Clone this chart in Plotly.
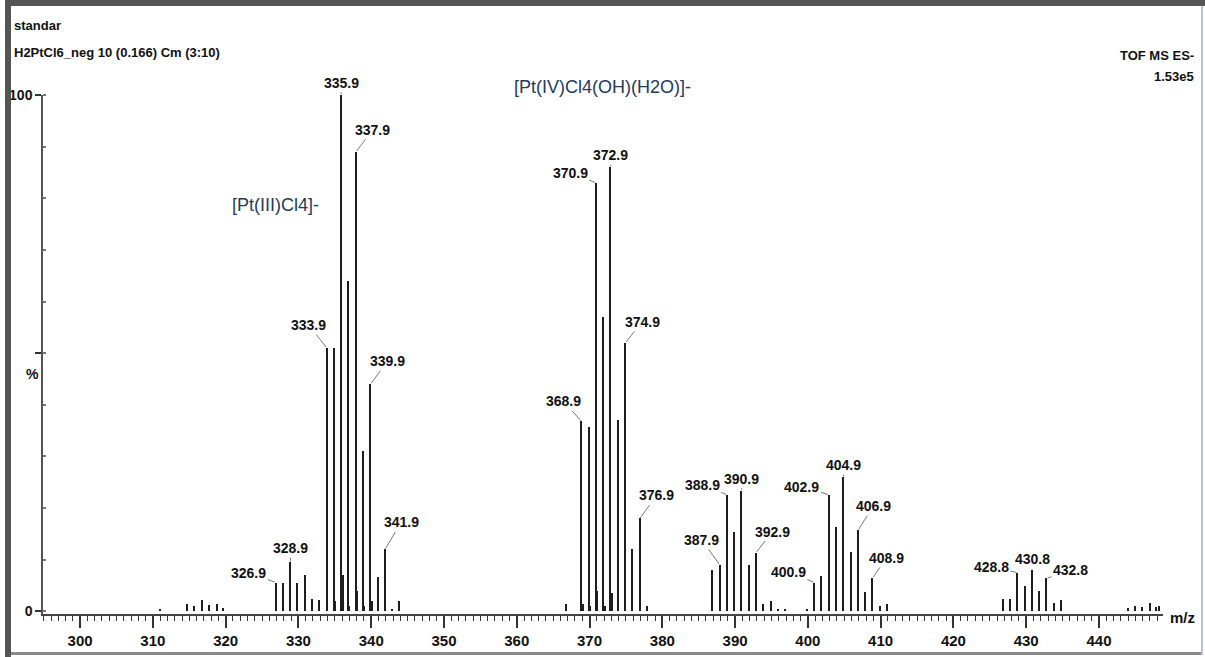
import plotly.graph_objects as go

# ---------------- data ----------------
mz = [311.0, 314.7, 315.7, 316.8, 317.7, 318.8, 319.6,
      326.9, 327.9, 328.9, 329.9, 330.9, 331.9, 332.9,
      333.9, 334.0, 334.9, 335.0, 335.9, 336.1, 336.9, 337.0,
      337.9, 338.1, 338.9, 339.1, 339.9, 340.1, 340.9, 341.9, 342.9, 343.9,
      366.8, 368.9, 369.1, 369.9, 370.1, 370.9, 371.1, 371.9, 372.1,
      372.9, 373.1, 373.9, 374.9, 375.9, 376.9, 377.9,
      386.9, 387.9, 388.9, 389.9, 390.9, 391.9, 392.9, 393.9, 394.9,
      395.9, 396.9, 399.9,
      400.9, 401.9, 402.9, 403.9, 404.9, 405.9, 406.9, 407.9, 408.9,
      409.9, 410.9,
      426.8, 427.8, 428.8, 429.8, 430.8, 431.8, 432.8, 433.8, 434.8,
      444.0, 445.0, 446.0, 447.0, 447.9, 448.3]
intensity = [0.4, 1.5, 1.0, 2.2, 1.3, 1.5, 0.6,
             5.6, 5.5, 9.5, 5.5, 7.0, 2.5, 2.3,
             51.0, 3.0, 51.0, 2.0, 100.0, 7.0, 64.0, 1.0,
             89.0, 4.0, 31.0, 1.0, 44.0, 2.0, 6.7, 12.0, 0.4, 2.0,
             1.5, 36.8, 1.5, 35.8, 1.0, 83.0, 4.0, 57.0, 1.0,
             86.0, 3.5, 37.0, 52.0, 12.0, 18.0, 1.0,
             8.0, 9.0, 22.6, 15.4, 23.4, 9.0, 11.4, 1.5, 2.0,
             0.5, 0.4, 0.4,
             5.6, 6.8, 22.6, 16.3, 26.0, 11.6, 15.7, 3.8, 6.5,
             1.0, 1.5,
             2.5, 2.5, 7.5, 5.0, 8.0, 4.0, 6.4, 1.7, 2.3,
             0.6, 1.1, 0.8, 1.6, 0.8, 1.1]

label_mz = [326.9, 328.9, 333.9, 335.9, 337.9, 339.9, 341.9,
            368.9, 370.9, 372.9, 374.9, 376.9,
            387.9, 388.9, 390.9, 392.9,
            400.9, 402.9, 404.9, 406.9, 408.9,
            428.8, 430.8, 432.8]
label_text = ["326.9", "328.9", "333.9", "335.9", "337.9", "339.9", "341.9",
              "368.9", "370.9", "372.9", "374.9", "376.9",
              "387.9", "388.9", "390.9", "392.9",
              "400.9", "402.9", "404.9", "406.9", "408.9",
              "428.8", "430.8", "432.8"]
# label offsets (pixels) from peak top
label_dx = [-27, 0, -18, 0, 17, 17, 16,
            -18, -26, 0, 17, 17,
            -18, -25, 0, 16,
            -26, -27, 0, 15, 14,
            -26, 0, 24]
label_dy = [-10, -14, -23, -12, -22, -23, -27,
            -20, -10, -12, -21, -23,
            -25, -10, -12, -21,
            -11, -8, -12, -24, -20,
            -6, -11, -8]

x_tick_vals = [300, 310, 320, 330, 340, 350, 360, 370, 380, 390, 400, 410, 420, 430, 440]
x_tick_text = [str(v) for v in x_tick_vals]

# ---------------- layout helpers ----------------
W, H = 1205, 657
ML, MR, MT, MB = 43, 42, 95, 43
PW, PH = W - ML - MR, H - MT - MB


def px(x):
    return (x - ML) / PW


def py(y):
    return 1 - (y - MT) / PH


NARROW = "Liberation Sans Narrow, Arial Narrow, Liberation Sans, Arial, sans-serif"

fig = go.Figure()
fig.add_trace(go.Bar(x=mz, y=intensity, width=0.2,
                     marker=dict(color="#1e1e1e", line=dict(width=0)),
                     hoverinfo="x+y", showlegend=False))

ann = []
for m, t, dx, dy in zip(label_mz, label_text, label_dx, label_dy):
    h = intensity[mz.index(m)]
    ann.append(dict(x=m, y=h, xref="x", yref="y", text=t, showarrow=True,
                    arrowhead=0, arrowwidth=0.8, arrowcolor="#555",
                    ax=dx, ay=dy, standoff=1,
                    font=dict(family=NARROW, size=14, color="#111", weight="bold")))

# header and labels
ann += [
    dict(x=px(12), y=py(25), xref="paper", yref="paper", text="standar", showarrow=False,
         xanchor="left", yanchor="middle",
         font=dict(family=NARROW, size=13, color="#111", weight="bold")),
    dict(x=px(12), y=py(53), xref="paper", yref="paper",
         text="H2PtCl6_neg 10 (0.166) Cm (3:10)", showarrow=False,
         xanchor="left", yanchor="middle",
         font=dict(family=NARROW, size=13, color="#111", weight="bold")),
    dict(x=px(1196), y=py(56), xref="paper", yref="paper", text="TOF MS ES-",
         showarrow=False, xanchor="right", yanchor="middle",
         font=dict(family=NARROW, size=13, color="#111", weight="bold")),
    dict(x=px(1196), y=py(77), xref="paper", yref="paper", text="1.53e5",
         showarrow=False, xanchor="right", yanchor="middle",
         font=dict(family=NARROW, size=13, color="#111", weight="bold")),
    dict(x=px(32), y=py(374), xref="paper", yref="paper", text="%",
         showarrow=False, xanchor="center", yanchor="middle",
         font=dict(family=NARROW, size=14, color="#111", weight="bold")),
    dict(x=px(1168), y=py(617), xref="paper", yref="paper", text="m/z",
         showarrow=False, xanchor="left", yanchor="middle",
         font=dict(family=NARROW, size=15, color="#111", weight="bold")),
    dict(x=px(275), y=py(205), xref="paper", yref="paper", text="[Pt(III)Cl4]-",
         showarrow=False, xanchor="center", yanchor="middle",
         font=dict(family=NARROW, size=18, color="#243a5e")),
    dict(x=px(602), y=py(87), xref="paper", yref="paper", text="[Pt(IV)Cl4(OH)(H2O)]-",
         showarrow=False, xanchor="center", yanchor="middle",
         font=dict(family=NARROW, size=18, color="#243a5e")),
]

shapes = [
    # frame
    dict(type="rect", xref="paper", yref="paper", x0=px(5), x1=px(11), y0=py(657), y1=py(0),
         fillcolor="#555", line=dict(width=0), layer="above"),
    dict(type="rect", xref="paper", yref="paper", x0=px(5), x1=px(1205), y0=py(6), y1=py(0),
         fillcolor="#555", line=dict(width=0), layer="above"),
    dict(type="rect", xref="paper", yref="paper", x0=px(11), x1=px(1203), y0=py(655), y1=py(652),
         fillcolor="#8a8a8a", line=dict(width=0), layer="above"),
    dict(type="rect", xref="paper", yref="paper", x0=px(1201), x1=px(1203), y0=py(655), y1=py(6),
         fillcolor="#b8c4d8", line=dict(width=0), layer="above"),
]

fig.update_layout(
    width=W, height=H,
    margin=dict(l=ML, r=MR, t=MT, b=MB, pad=0, autoexpand=False),
    paper_bgcolor="white", plot_bgcolor="white",
    bargap=0,
    showlegend=False,
    annotations=ann,
    shapes=shapes,
    xaxis=dict(range=[294.9, 448.8], tickvals=x_tick_vals, ticktext=x_tick_text,
               automargin=False,
               ticks="outside", ticklen=12, tickwidth=1.5, tickcolor="#333",
               showline=True, linecolor="#444", linewidth=1.5,
               showgrid=False, zeroline=False,
               tickfont=dict(family=NARROW, size=15, color="#111", weight="bold"),
               minor=dict(dtick=1, tick0=295, ticks="outside", ticklen=5, tickcolor="#333",
                          tickwidth=1, showgrid=False)),
    xaxis2=dict(range=[294.9, 448.8], overlaying="x", anchor="y", side="bottom",
                automargin=False,
                tick0=295, dtick=5, ticks="outside", ticklen=8, tickwidth=1.2,
                tickcolor="#333", showticklabels=False, showline=False,
                showgrid=False, zeroline=False),
    yaxis=dict(range=[-0.5, 100], tickvals=[0, 50, 100], ticktext=["0", "", "100"],
               automargin=False,
               ticks="outside", ticklen=6, tickwidth=1.5, tickcolor="#333",
               showline=True, linecolor="#555", linewidth=1.5,
               showgrid=False, zeroline=False,
               tickfont=dict(family=NARROW, size=14, color="#111", weight="bold"),
               minor=dict(dtick=10, ticks="inside", ticklen=3, tickcolor="#777",
                          showgrid=False)),
)

fig.write_html("out.html", config={"displayModeBar": False},
               post_script="document.body.style.margin='0px';document.body.style.overflow='hidden';")
